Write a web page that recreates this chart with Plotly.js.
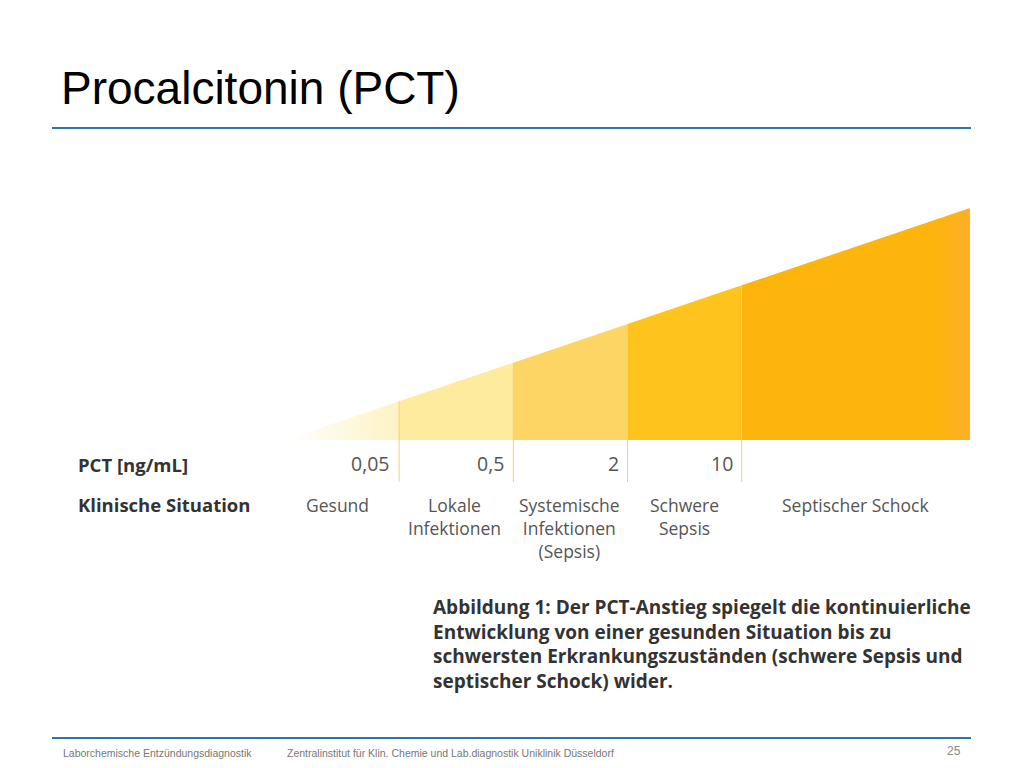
<!DOCTYPE html>
<html><head><meta charset="utf-8">
<script src="https://cdn.plot.ly/plotly-3.0.1.min.js"></script>
<style>html,body{margin:0;padding:0;background:#fff;}#chart{width:1024px;height:768px;}</style>
</head><body><div id="chart"></div>
<script>
// ---- data ----
const categories = ["Gesund", "Lokale<br>Infektionen", "Systemische<br>Infektionen<br>(Sepsis)", "Schwere<br>Sepsis", "Septischer Schock"];
const segStart = [0, 1, 2, 3, 4];
const segEnd = [1, 2, 3, 4, 6];
const pctThresholds = ["0,05", "0,5", "2", "10"];
const thresholdPos = [1, 2, 3, 4];
const wedgeSlope = 1; // height grows linearly with x
const segColors = ["#FEF3C4", "#FEEB9E", "#FDD565", "#FEC31C", "#FDB40C"];
const captionText = "Abbildung 1: Der PCT-Anstieg spiegelt die kontinuierliche<br>Entwicklung von einer gesunden Situation bis zu<br>schwersten Erkrankungszuständen (schwere Sepsis und<br>septischer Schock) wider.";

// ---- geometry of page (pixels) ----
const W = 1024, H = 768;
const L = 285, R = 970, T = 208, B = 440;
const xMax = 6, yMax = 6;
const px = x => (x - L) / (R - L);
const py = y => (B - y) / (B - T);
const ux = u => L + u / xMax * (R - L); // data -> pixel x

const traces = categories.map((c, i) => {
  const x0 = segStart[i], x1 = segEnd[i];
  const t = {
    type: "scatter", mode: "lines",
    x: [x0, x1, x1, x0, x0],
    y: [0, 0, x1 * wedgeSlope, x0 * wedgeSlope, 0],
    fill: "toself", fillcolor: segColors[i],
    line: {width: 0, color: segColors[i]},
    hoverinfo: "skip", showlegend: false
  };
  if (i === 0) {
    t.fillgradient = {type: "horizontal", colorscale: [[0, "rgba(255,255,255,1)"], [1, segColors[0]]]};
  }
  if (i === 4) {
    t.fillgradient = {type: "horizontal", colorscale: [[0, segColors[4]], [0.85, "#FDB40C"], [1, "#FBB02A"]]};
  }
  return t;
});

const shapes = [];
thresholdPos.forEach(v => {
  shapes.push({type: "line", xref: "x", yref: "paper", x0: v, x1: v, y0: py(482), y1: v * wedgeSlope / yMax,
    line: {color: "#F5D36A", width: 1}});
});
shapes.push({type: "line", xref: "paper", yref: "paper", x0: px(52), x1: px(971), y0: py(128), y1: py(128), line: {color: "#2F74A6", width: 2}});
shapes.push({type: "line", xref: "paper", yref: "paper", x0: px(52), x1: px(971), y0: py(738), y1: py(738), line: {color: "#2F74A6", width: 2}});

const fig = "Open Sans, DejaVu Sans, sans-serif";
const foot = "Liberation Sans, Arial, sans-serif";
const ann = [];
function A(text, x, y, opts) {
  ann.push(Object.assign({text: text, xref: "paper", yref: "paper", x: px(x), y: py(y), showarrow: false,
    xanchor: "left", yanchor: "middle", font: {family: fig, size: 16, color: "#555"}}, opts || {}));
}
A("Procalcitonin (PCT)", 59, 88, {font: {family: foot, size: 46, color: "#000"}});
A("<b>PCT [ng/mL]</b>", 76, 464, {font: {family: fig, size: 18.5, color: "#333"}});
A("<b>Klinische Situation</b>", 76, 504, {font: {family: fig, size: 18.5, color: "#333"}});
pctThresholds.forEach((t, i) => {
  A(t, ux(thresholdPos[i]) - 7, 463, {xanchor: "right", font: {family: fig, size: 19.5, color: "#555"}});
});
const catCenters = [337, 454, 569, 684, 855];
categories.forEach((c, i) => {
  A(c, catCenters[i], 491, {xanchor: "center", yanchor: "top", align: "center",
    font: {family: fig, size: 17.5, color: "#555"}});
});
A("<b>" + captionText + "</b>", 431, 592, {yanchor: "top", align: "left", font: {family: fig, size: 19, color: "#333"}});
A("Laborchemische Entzündungsdiagnostik", 61, 753, {font: {family: foot, size: 10.5, color: "#777"}});
A("Zentralinstitut für Klin. Chemie und Lab.diagnostik Uniklinik Düsseldorf", 285, 753, {font: {family: foot, size: 10.5, color: "#777"}});
A("25", 963, 751, {xanchor: "right", font: {family: foot, size: 12, color: "#888"}});

const layout = {
  width: W, height: H,
  margin: {l: L, r: W - R, t: T, b: H - B, pad: 0},
  paper_bgcolor: "#fff", plot_bgcolor: "rgba(0,0,0,0)",
  xaxis: {range: [0, xMax], visible: false, fixedrange: true},
  yaxis: {range: [0, yMax], visible: false, fixedrange: true},
  shapes: shapes, annotations: ann, showlegend: false
};
Plotly.newPlot("chart", traces, layout, {displayModeBar: false, staticPlot: true});
</script></body></html>
